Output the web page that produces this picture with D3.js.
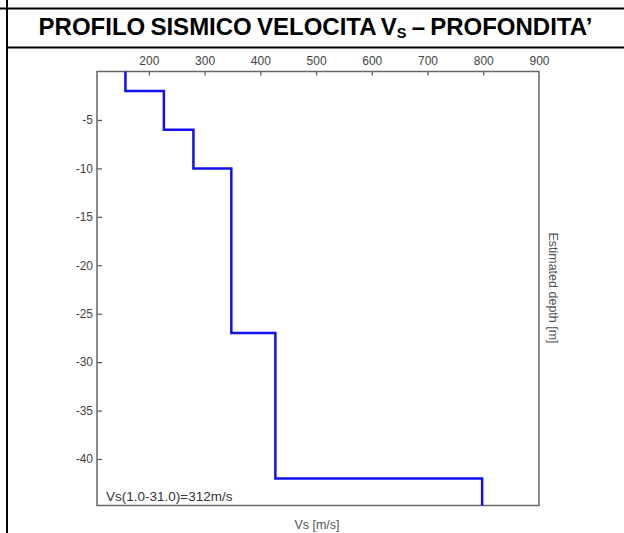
<!DOCTYPE html>
<html lang="it">
<head>
    <meta charset="UTF-8">
    <title>Profilo Vs</title>
    <script src="https://d3js.org/d3.v7.min.js"></script>
    <style>
        body {
            margin: 0;
            background: #fff;
        }
        svg text {
            font-family: "Liberation Sans", Arial, sans-serif;
        }
        .tick text {
            font-size: 12px;
            fill: #444;
        }
        .tick line {
            stroke: #555;
            stroke-width: 1.2;
        }
    </style>
</head>
<body>
    <div id="chart"></div>
    <script>
        const width = 624;
        const height = 533;

        // layer velocities [m/s] and layer depths [m]
        const vsValues = [158, 227, 280, 348, 427, 798];
        const layerTop = [0, 2, 6, 10, 27, 42];
        const layerBottom = [2, 6, 10, 27, 42, 44.8];
        const xTicks = [200, 300, 400, 500, 600, 700, 800, 900];
        const yTicks = [-5, -10, -15, -20, -25, -30, -35, -40];
        const titleMain = "PROFILO SISMICO VELOCITA V";
        const titleSub = "S";
        const titleEnd = " \u2013 PROFONDITA\u2019";
        const vsNote = "Vs(1.0-31.0)=312m/s";

        const svg = d3.select("#chart")
            .append("svg")
            .attr("width", width)
            .attr("height", height);

        // table frame
        svg.append("line").attr("x1", 7).attr("x2", 7).attr("y1", 0).attr("y2", height)
            .attr("stroke", "#000").attr("stroke-width", 2);
        svg.append("line").attr("x1", 0).attr("x2", width).attr("y1", 8.5).attr("y2", 8.5)
            .attr("stroke", "#000").attr("stroke-width", 2);
        svg.append("line").attr("x1", 7).attr("x2", width).attr("y1", 47.5).attr("y2", 47.5)
            .attr("stroke", "#000").attr("stroke-width", 2);

        const title = svg.append("text")
            .attr("x", 315.5)
            .attr("y", 35)
            .attr("text-anchor", "middle")
            .style("font-size", "24px")
            .style("font-weight", "bold")
            .style("word-spacing", "-1.5px")
            .style("fill", "#000");
        title.append("tspan").text(titleMain);
        title.append("tspan").attr("dy", 3).style("font-size", "14.5px").text(titleSub);
        title.append("tspan").attr("dy", -3).text(titleEnd);

        // plot
        const x = d3.scaleLinear().domain([107, 900]).range([97, 539]);
        const y = d3.scaleLinear().domain([0, -44.8]).range([71.5, 505.5]);

        const topAxis = svg.append("g")
            .attr("transform", `translate(0,${y(0)})`)
            .call(d3.axisTop(x).tickValues(xTicks).tickSize(-4).tickPadding(6.5));
        topAxis.select(".domain").remove();
        topAxis.selectAll(".tick").filter(d => d === 900).select("line").remove();

        const leftAxis = svg.append("g")
            .attr("transform", `translate(${x(107)},0)`)
            .call(d3.axisLeft(y).tickValues(yTicks).tickSize(-5).tickPadding(4)
                .tickFormat(d => String(d)));
        leftAxis.select(".domain").remove();

        svg.append("rect")
            .attr("x", x(107))
            .attr("y", y(0))
            .attr("width", x(900) - x(107))
            .attr("height", y(-44.8) - y(0))
            .attr("fill", "none")
            .attr("stroke", "#666")
            .attr("stroke-width", 1.5);

        // step profile
        const points = [];
        vsValues.forEach((v, i) => {
            points.push([v, -layerTop[i]]);
            points.push([v, -layerBottom[i]]);
        });

        svg.append("path")
            .datum(points)
            .attr("fill", "none")
            .attr("stroke", "#1010ee")
            .attr("stroke-width", 2.5)
            .attr("d", d3.line().x(d => x(d[0])).y(d => y(d[1])));

        svg.append("text")
            .attr("x", 106)
            .attr("y", 501)
            .style("font-size", "13.5px")
            .style("fill", "#333")
            .text(vsNote);

        svg.append("text")
            .attr("x", 317)
            .attr("y", 529)
            .attr("text-anchor", "middle")
            .style("font-size", "12.5px")
            .style("fill", "#555")
            .text("Vs [m/s]");

        svg.append("text")
            .attr("transform", "translate(548.5,288) rotate(90)")
            .attr("text-anchor", "middle")
            .style("font-size", "12.5px")
            .style("fill", "#555")
            .text("Estimated depth [m]");
    </script>
</body>
</html>
